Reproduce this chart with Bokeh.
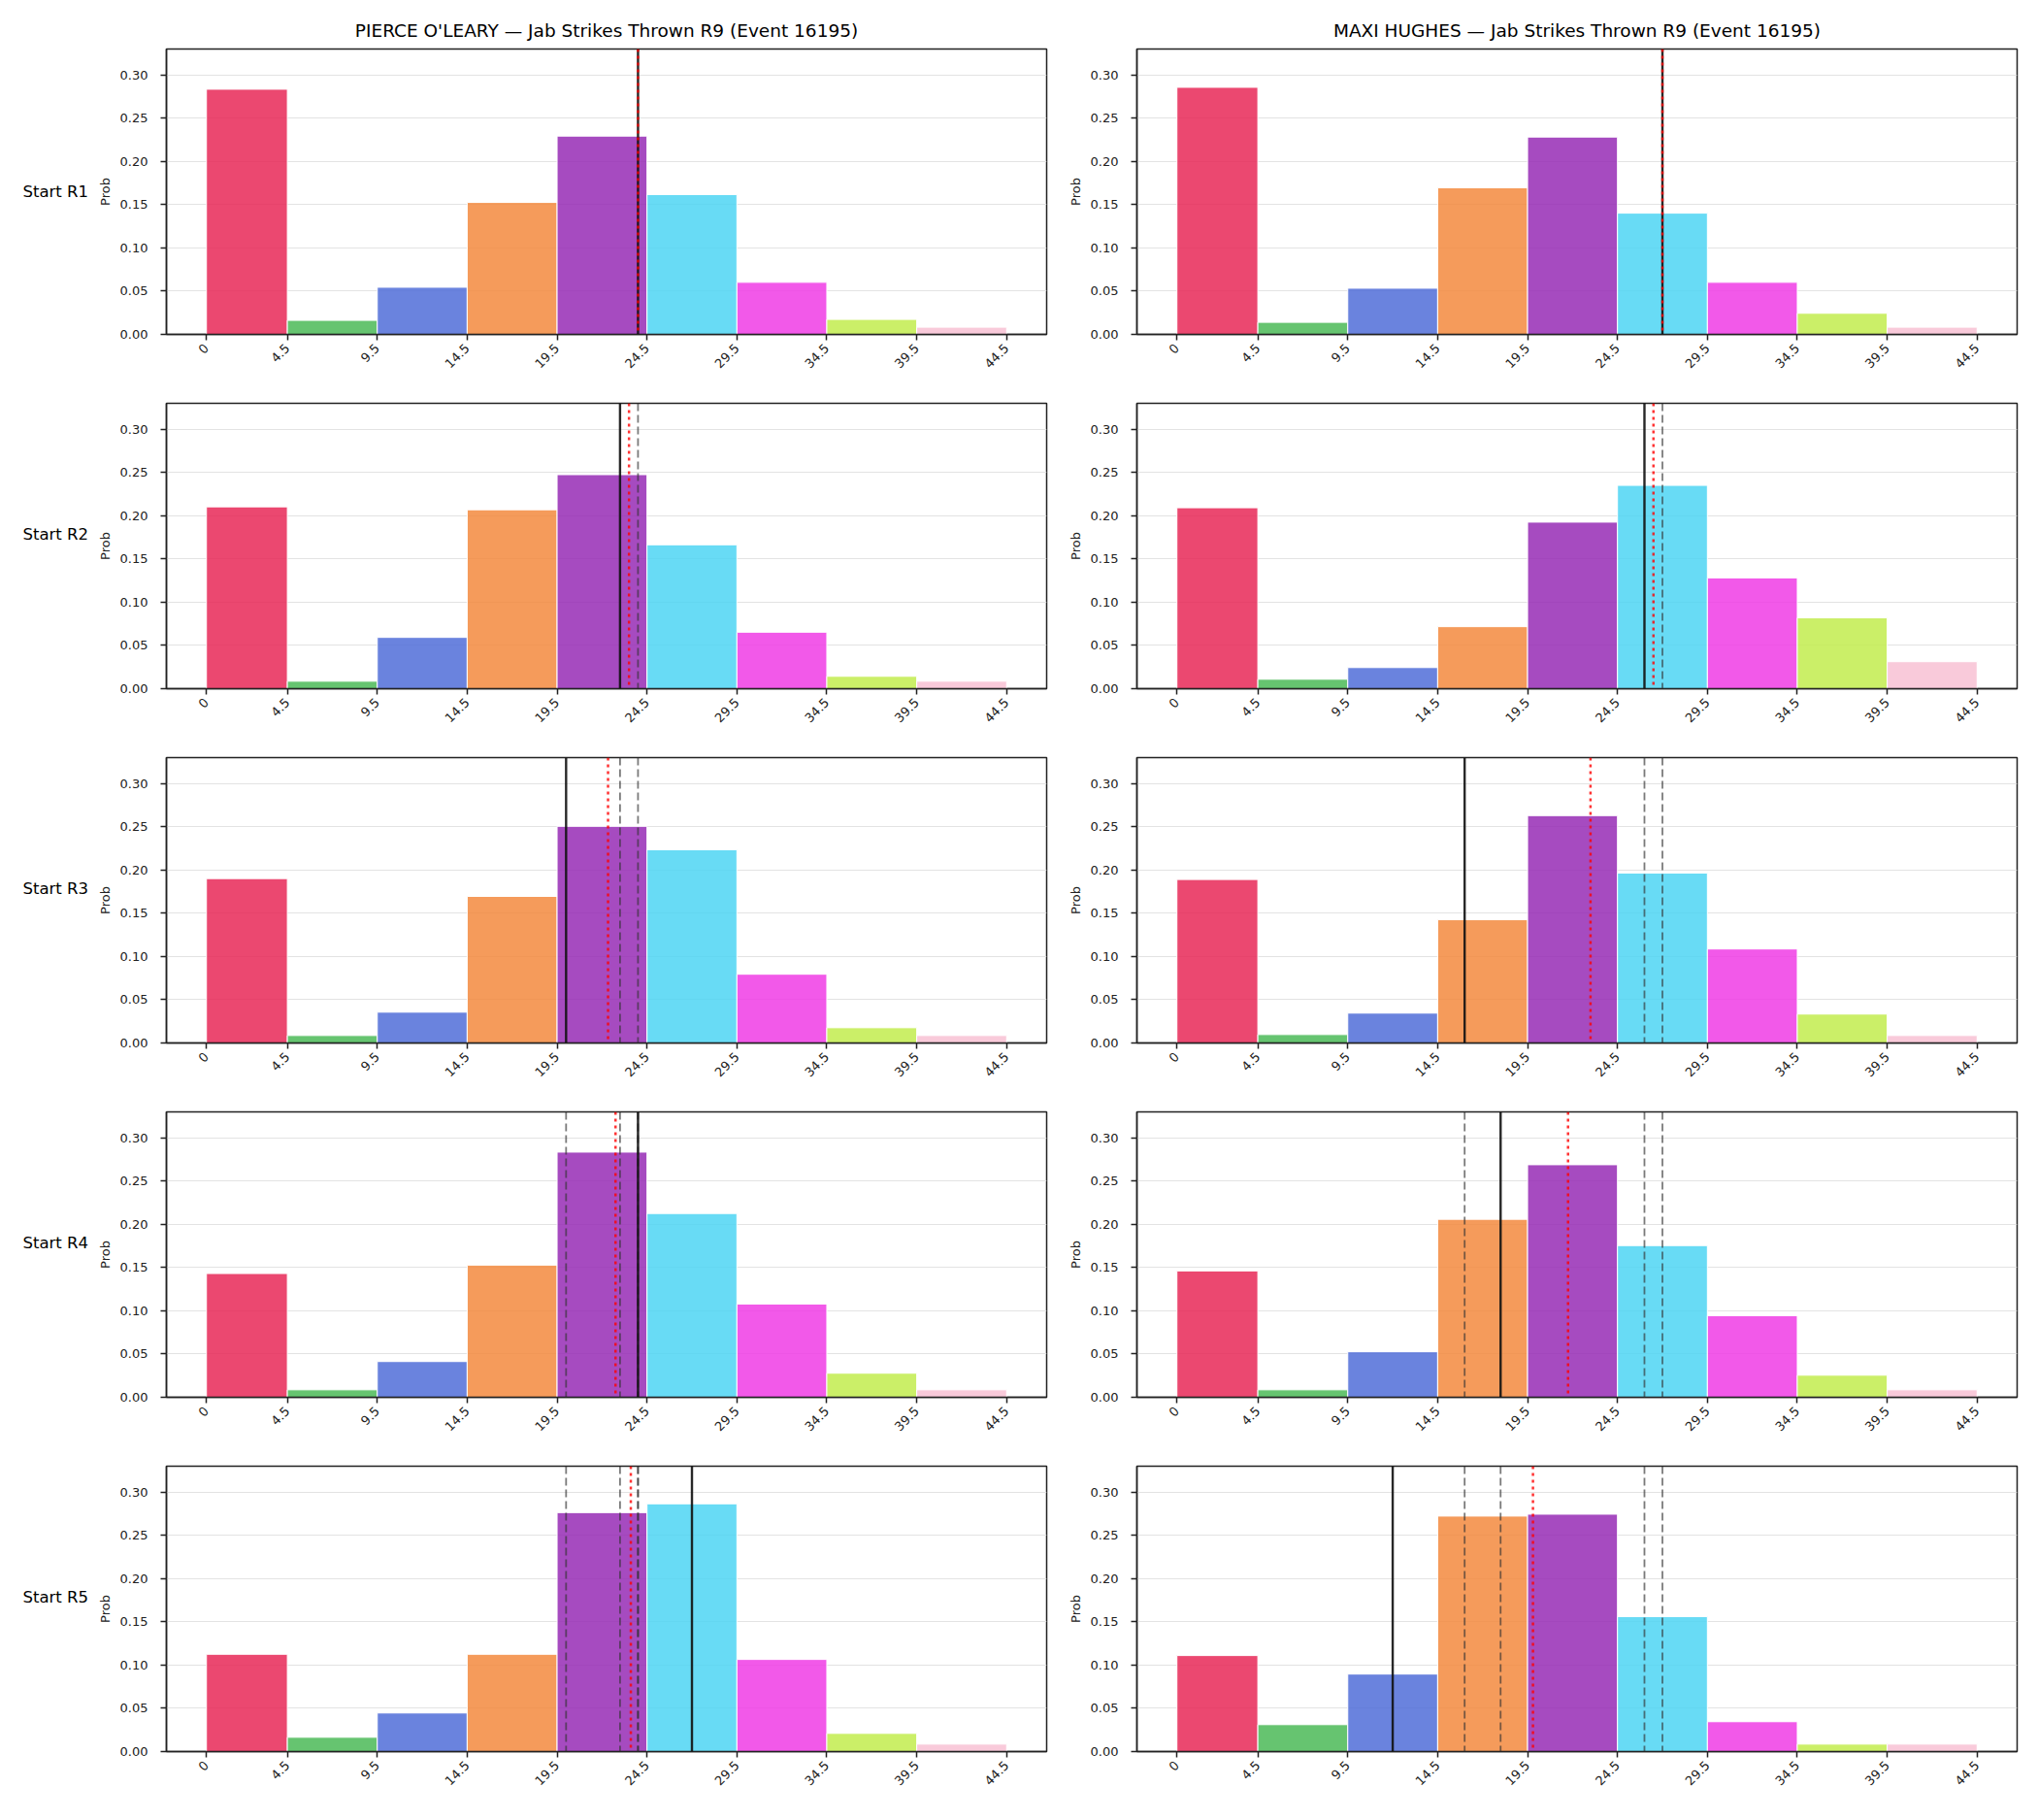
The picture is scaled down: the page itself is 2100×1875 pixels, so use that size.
import numpy as np
from bokeh.plotting import figure
from bokeh.models import Span, FixedTicker, Range1d
from bokeh.core.properties import value
from bokeh.layouts import column, row
from bokeh.embed import file_html
from bokeh.resources import INLINE

# ---- data -------------------------------------------------------------
fighters = ["PIERCE O'LEARY", "MAXI HUGHES"]
stat_title = "Jab Strikes Thrown R9 (Event 16195)"
start_rounds = ["Start R1", "Start R2", "Start R3", "Start R4", "Start R5"]

bin_edges = [0, 4.5, 9.5, 14.5, 19.5, 24.5, 29.5, 34.5, 39.5, 44.5]
tick_labels = ["0", "4.5", "9.5", "14.5", "19.5", "24.5", "29.5", "34.5", "39.5", "44.5"]
y_ticks = [0.0, 0.05, 0.10, 0.15, 0.20, 0.25, 0.30]

bin_colors = ["#E72857", "#4BBA57", "#506DD8", "#F38A3E", "#962BB5",
              "#4DD5F3", "#F03CE5", "#C2EC4D", "#F8C1D4"]

# probability per bin, one list per starting round
oleary_probs = [
    [0.2835, 0.0162, 0.0545, 0.1526, 0.2293, 0.1617, 0.0602, 0.0173, 0.0083],
    [0.2103, 0.0086, 0.0593, 0.2069, 0.2475, 0.1664, 0.0653, 0.0143, 0.0086],
    [0.1901, 0.0086, 0.0356, 0.1695, 0.2505, 0.2235, 0.0795, 0.0176, 0.0086],
    [0.1431, 0.0086, 0.0413, 0.1528, 0.2835, 0.2125, 0.1078, 0.0278, 0.0086],
    [0.1125, 0.0165, 0.0446, 0.1125, 0.2763, 0.2865, 0.1065, 0.0210, 0.0086],
]
hughes_probs = [
    [0.2857, 0.0139, 0.0534, 0.1695, 0.2282, 0.1402, 0.0602, 0.0244, 0.0083],
    [0.2092, 0.0109, 0.0244, 0.0717, 0.1926, 0.2351, 0.1281, 0.0819, 0.0312],
    [0.1890, 0.0097, 0.0345, 0.1425, 0.2629, 0.1965, 0.1087, 0.0334, 0.0086],
    [0.1461, 0.0086, 0.0526, 0.2058, 0.2689, 0.1754, 0.0943, 0.0255, 0.0086],
    [0.1110, 0.0311, 0.0896, 0.2723, 0.2745, 0.1560, 0.0345, 0.0086, 0.0086],
]

# projected jab count for each starting round
oleary_proj = [24, 23, 20, 24, 27]
hughes_proj = [27, 26, 16, 18, 12]

# ---- layout constants ---------------------------------------------------
FRAME_W, FRAME_H = 907, 294
X_LO, X_HI = -2.225, 46.725
Y_MAX = 0.33
FONT = "DejaVu Sans"
INK = "#222222"
TICK_FS = "13px"
TITLE_FS = "18.5px"
CAPTION_FS = "16.5px"
CAPTION_W = 95
TOP_FIRST, TOP_REST, BOTTOM = 50, 20, 51


def make_caption(r):
    """Narrow strip to the left of a row holding the 'Start Rn' caption."""
    top = TOP_FIRST if r == 0 else TOP_REST
    height = top + FRAME_H + BOTTOM
    c = figure(width=CAPTION_W, height=height,
               x_range=Range1d(0, CAPTION_W), y_range=Range1d(height, 0),
               min_border=0, output_backend="svg", toolbar_location=None)
    c.axis.visible = False
    c.grid.visible = False
    c.outline_line_color = None
    c.text(x=[23], y=[top + FRAME_H / 2], text=[start_rounds[r]],
           text_font=value(FONT), text_font_size=CAPTION_FS, text_color="#000000",
           text_baseline="middle", text_align="left")
    return c


def make_panel(col, r, probs, proj_so_far):
    first = r == 0
    p = figure(
        frame_width=FRAME_W, frame_height=FRAME_H,
        min_border_left=76,
        min_border_right=17 if col == 0 else 22,
        min_border_top=TOP_FIRST if first else TOP_REST,
        min_border_bottom=BOTTOM,
        x_range=Range1d(X_LO, X_HI), y_range=Range1d(0, Y_MAX),
        output_backend="svg", toolbar_location=None,
        title=f"{fighters[col]} \u2014 {stat_title}" if first else None,
    )
    if first:
        p.title.align = "center"
        p.title.text_font = FONT
        p.title.text_font_size = TITLE_FS
        p.title.text_font_style = "normal"
        p.title.text_color = "#000000"
        p.title.standoff = 17

    p.quad(left=bin_edges[:-1], right=bin_edges[1:], bottom=0, top=probs,
           fill_color=bin_colors, fill_alpha=0.85,
           line_color="white", line_width=1)

    # earlier starting rounds
    for v in proj_so_far[:-1]:
        p.add_layout(Span(location=v, dimension="height", line_color="#333333",
                          line_alpha=0.65, line_width=1.8, line_dash="8 4"))
    # this starting round
    p.add_layout(Span(location=proj_so_far[-1], dimension="height",
                      line_color="#111111", line_alpha=0.9, line_width=2.4))
    # running mean of the projections
    p.add_layout(Span(location=float(np.mean(proj_so_far)), dimension="height",
                      line_color="red", line_alpha=0.8, line_width=2.5,
                      line_dash="3 4"))

    # axes
    p.xaxis.ticker = FixedTicker(ticks=bin_edges)
    p.xaxis.major_label_overrides = {e: t for e, t in zip(bin_edges, tick_labels)}
    p.xaxis.major_label_orientation = np.pi / 4
    p.yaxis.ticker = FixedTicker(ticks=y_ticks)
    p.yaxis.major_label_overrides = {t: f"{t:.2f}" for t in y_ticks}
    p.yaxis.axis_label = "Prob"
    p.yaxis.axis_label_text_font = FONT
    p.yaxis.axis_label_text_font_size = TICK_FS
    p.yaxis.axis_label_text_font_style = "normal"
    p.yaxis.axis_label_text_color = INK
    p.yaxis.axis_label_standoff = 5
    for ax in (p.xaxis, p.yaxis):
        ax.major_label_text_font = FONT
        ax.major_label_text_font_size = TICK_FS
        ax.major_label_text_color = INK
        ax.axis_line_color = INK
        ax.axis_line_width = 1.5
        ax.major_tick_line_color = INK
        ax.major_tick_line_width = 1.5
        ax.major_tick_out = 6
        ax.major_tick_in = 0
        ax.minor_tick_line_color = None
    p.yaxis.major_label_standoff = 13
    p.xaxis.major_label_standoff = 6

    p.xgrid.grid_line_color = None
    p.ygrid.grid_line_color = "#e3e3e3"
    p.ygrid.grid_line_width = 1
    p.outline_line_color = INK
    p.outline_line_width = 1.5
    p.outline_line_alpha = 1
    p.background_fill_color = "white"
    p.border_fill_color = "white"
    return p


rows = []
for r in range(5):
    cap = make_caption(r)
    left = make_panel(0, r, oleary_probs[r], oleary_proj[: r + 1])
    right = make_panel(1, r, hughes_probs[r], hughes_proj[: r + 1])
    rows.append(row(cap, left, right))

layout = column(*rows)
open("out.html", "w").write(file_html(layout, INLINE))
